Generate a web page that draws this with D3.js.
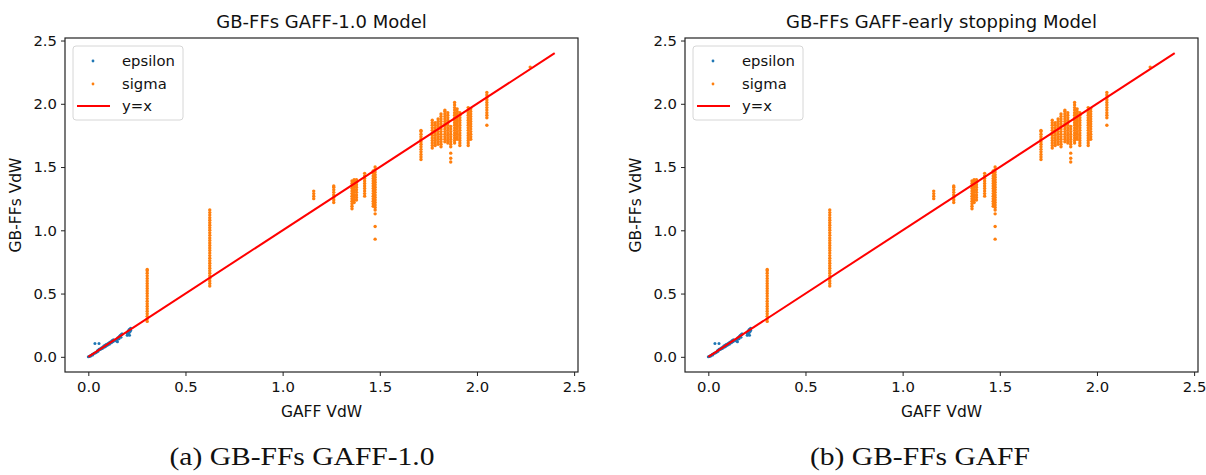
<!DOCTYPE html>
<html><head><meta charset="utf-8">
<script src="https://cdn.jsdelivr.net/npm/d3@7"></script>
<style>body{margin:0;background:#fff}svg{display:block}</style>
</head><body>
<svg id="c" width="1206" height="475"></svg>
<script>
// ---- data ----
const titles = ["GB-FFs GAFF-1.0 Model", "GB-FFs GAFF-early stopping Model"];
const captions = ["(a) GB-FFs GAFF-1.0", "(b) GB-FFs GAFF"];
const xLabel = "GAFF VdW";
const yLabel = "GB-FFs VdW";
const tickValues = [0.0, 0.5, 1.0, 1.5, 2.0, 2.5];
const legendLabels = ["epsilon", "sigma", "y=x"];
const lineXY = [0, 2.4];

const epsX = [0.000,0.005,0.010,0.015,0.020,0.025,0.030,0.034,0.040,0.045,0.050,0.055,0.055,0.060,0.065,0.070,0.075,0.080,0.085,0.090,0.095,0.100,0.105,0.110,0.115,0.120,0.125,0.130,0.140,0.145,0.150,0.150,0.155,0.160,0.165,0.170,0.175,0.200,0.200,0.205,0.205,0.210,0.210,0.215,0.215,
  0.012,0.022,0.035,0.048,0.062,0.072,0.082,0.088,0.092,0.098,0.102,0.108,0.112,0.118,0.122,0.128,0.135,0.148,0.152,0.158,0.162,0.168,0.172,0.202,0.208,0.212,0.218,0.218];
const epsY = [0.000,0.003,0.008,0.012,0.018,0.022,0.028,0.105,0.035,0.040,0.045,0.105,0.060,0.062,0.068,0.072,0.078,0.085,0.090,0.095,0.100,0.098,0.108,0.115,0.118,0.125,0.130,0.135,0.130,0.125,0.120,0.140,0.150,0.160,0.170,0.175,0.180,0.170,0.190,0.180,0.205,0.190,0.215,0.200,0.220,
  0.006,0.015,0.030,0.050,0.058,0.066,0.075,0.082,0.088,0.092,0.105,0.100,0.110,0.112,0.118,0.122,0.128,0.135,0.150,0.142,0.165,0.155,0.180,0.175,0.200,0.170,0.225,0.210];

const sigmaStripeX = [0.303, 0.625, 1.16, 1.263, 1.357, 1.368, 1.38, 1.422, 1.466, 1.476, 1.712, 1.77, 1.785, 1.80, 1.815, 1.835, 1.85, 1.865, 1.885, 1.898, 1.912, 1.955, 1.968, 2.051, 2.274];
const sigmaStripeY = [
 [0.28,0.30,0.32,0.34,0.36,0.38,0.40,0.42,0.44,0.46,0.48,0.50,0.52,0.54,0.56,0.58,0.60,0.62,0.64,0.66,0.68,0.69],
 [0.56,0.58,0.60,0.62,0.64,0.66,0.68,0.70,0.72,0.74,0.76,0.78,0.80,0.82,0.84,0.86,0.88,0.90,0.92,0.94,0.96,0.98,1.00,1.02,1.04,1.06,1.08,1.10,1.12,1.14,1.16],
 [1.25,1.27,1.29,1.31],
 [1.22,1.24,1.26,1.28,1.30,1.32,1.34,1.35],
 [1.17,1.19,1.21,1.23,1.25,1.27,1.29,1.31,1.33,1.35,1.37,1.39],
 [1.22,1.24,1.26,1.28,1.30,1.32,1.34,1.36,1.38,1.40],
 [1.24,1.26,1.28,1.30,1.32,1.34,1.36,1.38,1.40],
 [1.27,1.29,1.31,1.33,1.35,1.37,1.39,1.41,1.43,1.45],
 [1.19,1.21,1.23,1.25,1.27,1.29,1.31,1.33,1.35,1.37,1.39,1.41,1.43,1.45,1.47],
 [0.93,1.03,1.13,1.16,1.18,1.20,1.22,1.24,1.26,1.28,1.30,1.32,1.34,1.36,1.38,1.40,1.42,1.44,1.46,1.48,1.50],
 [1.56,1.58,1.60,1.62,1.64,1.66,1.68,1.70,1.72,1.74,1.76,1.78,1.79],
 [1.65,1.67,1.69,1.71,1.73,1.75,1.77,1.79,1.81,1.83,1.85,1.87],
 [1.67,1.69,1.71,1.73,1.75,1.77,1.79,1.81,1.83,1.85],
 [1.68,1.70,1.72,1.74,1.76,1.78,1.80,1.82,1.84,1.86,1.88],
 [1.66,1.68,1.70,1.72,1.74,1.76,1.78,1.80,1.82,1.84,1.86,1.88,1.90,1.92],
 [1.70,1.72,1.74,1.76,1.78,1.80,1.82,1.84,1.86,1.88,1.90,1.92,1.94,1.95],
 [1.69,1.71,1.73,1.75,1.77,1.79,1.81,1.83,1.85,1.87,1.89,1.91,1.93],
 [1.54,1.57,1.61,1.66,1.68,1.70,1.72,1.74,1.76,1.78,1.80,1.82],
 [1.69,1.71,1.73,1.75,1.77,1.79,1.81,1.83,1.85,1.87,1.89,1.91,1.93,1.95,1.97,1.99,2.01],
 [1.72,1.74,1.76,1.78,1.80,1.82,1.84,1.86,1.88,1.90,1.92,1.94,1.96],
 [1.67,1.69,1.71,1.73,1.75,1.77,1.79,1.81,1.83,1.85,1.87,1.89,1.91,1.93],
 [1.67,1.69,1.71,1.73,1.75,1.77,1.79,1.81,1.83,1.85,1.87,1.89,1.91,1.93,1.95,1.97],
 [1.72,1.74,1.76,1.78,1.80,1.82,1.84,1.86,1.88,1.90,1.92,1.94,1.96],
 [1.83,1.89,1.91,1.93,1.95,1.97,1.99,2.01,2.03,2.05,2.07,2.09],
 [2.29]
];

// ---- drawing ----
const colEps = "#1f77b4", colSig = "#ff7f0e", colLine = "#ff0000";
const svg = d3.select("#c");
const font = "'DejaVu Sans', sans-serif";

const epsPts = epsX.map((x, i) => [x, epsY[i]]);
const sigPts = [];
sigmaStripeX.forEach((x, i) => sigmaStripeY[i].forEach(y => sigPts.push([x, y])));

const panels = [
  {left: 65, capX: 302, capW: 265},
  {left: 685, capX: 920, capW: 220}
];
const PW = 513, PT = 38, PH = 334;

panels.forEach((p, k) => {
  const g = svg.append("g").attr("transform", `translate(${p.left},${PT})`);
  const x = d3.scaleLinear().domain([-0.12, 2.52]).range([0, PW]);
  const y = d3.scaleLinear().domain([-0.12, 2.52]).range([PH, 0]);

  // points
  g.append("g").selectAll("circle").data(epsPts).join("circle")
    .attr("cx", d => x(d[0])).attr("cy", d => y(d[1])).attr("r", 1.5).attr("fill", colEps);
  g.append("g").selectAll("circle").data(sigPts).join("circle")
    .attr("cx", d => x(d[0])).attr("cy", d => y(d[1])).attr("r", 1.7).attr("fill", colSig);
  // y=x
  g.append("line").attr("x1", x(lineXY[0])).attr("y1", y(lineXY[0]))
    .attr("x2", x(lineXY[1])).attr("y2", y(lineXY[1]))
    .attr("stroke", colLine).attr("stroke-width", 2);

  // axes
  const xa = g.append("g").attr("transform", `translate(0,${PH})`)
    .call(d3.axisBottom(x).tickValues(tickValues).tickFormat(d3.format(".1f")).tickSize(4).tickPadding(5));
  const ya = g.append("g")
    .call(d3.axisLeft(y).tickValues(tickValues).tickFormat(d3.format(".1f")).tickSize(4).tickPadding(4));
  [xa, ya].forEach(a => {
    a.select(".domain").remove();
    a.selectAll("line").attr("stroke", "#222");
    a.selectAll("text").attr("font-family", font).attr("font-size", 14.8).attr("fill", "#111");
  });
  // frame
  g.append("rect").attr("x", 0).attr("y", 0).attr("width", PW).attr("height", PH)
    .attr("fill", "none").attr("stroke", "#222").attr("stroke-width", 1.2);

  // title
  g.append("text").attr("x", PW / 2).attr("y", -10).attr("text-anchor", "middle")
    .attr("font-family", font).attr("font-size", 18).attr("fill", "#111").text(titles[k]);
  // axis labels
  g.append("text").attr("x", PW / 2).attr("y", PH + 45).attr("text-anchor", "middle")
    .attr("font-family", font).attr("font-size", 15.5).attr("fill", "#111").text(xLabel);
  g.append("text").attr("transform", `translate(-44,${PH / 2}) rotate(-90)`).attr("text-anchor", "middle")
    .attr("font-family", font).attr("font-size", 15.5).attr("fill", "#111").text(yLabel);

  // legend
  const lg = g.append("g").attr("transform", "translate(8,8)");
  lg.append("rect").attr("width", 110).attr("height", 74).attr("rx", 3)
    .attr("fill", "#fff").attr("fill-opacity", 0.8).attr("stroke", "#d6d6d6");
  const rows = [15, 38, 60];
  lg.append("circle").attr("cx", 20).attr("cy", rows[0]).attr("r", 1.4).attr("fill", colEps);
  lg.append("circle").attr("cx", 20).attr("cy", rows[1]).attr("r", 1.4).attr("fill", colSig);
  lg.append("line").attr("x1", 4).attr("x2", 37).attr("y1", rows[2]).attr("y2", rows[2])
    .attr("stroke", colLine).attr("stroke-width", 2);
  legendLabels.forEach((t, i) => lg.append("text").attr("x", 49).attr("y", rows[i] + 5)
    .attr("font-family", font).attr("font-size", 14.8).attr("fill", "#111").text(t));

  // caption
  svg.append("text").attr("x", p.capX).attr("y", 465).attr("text-anchor", "middle")
    .attr("font-family", "'Liberation Serif', 'DejaVu Serif', serif").attr("font-size", 25)
    .attr("textLength", p.capW).attr("lengthAdjust", "spacingAndGlyphs")
    .attr("fill", "#111").text(captions[k]);
});
</script>
</body></html>
